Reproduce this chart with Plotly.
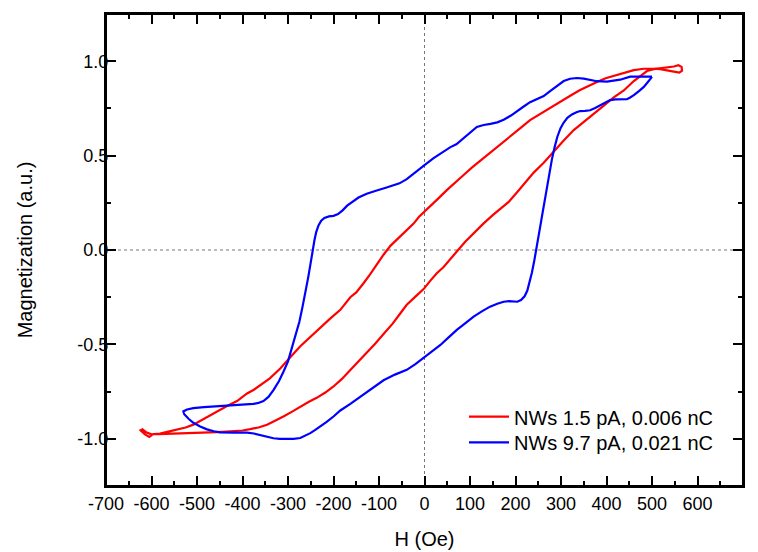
import plotly.graph_objects as go

# ---- data ----
red_H = [-622, -615, -605, -596, -585, -566, -548, -530, -510, -493, -475, -456, -435, -420,
         -400, -383, -365, -346, -328, -310, -290, -273, -255, -237, -218, -200, -182, -163,
         -145, -127, -108, -90, -70, -53, -39, -20, -2, 12, 27, 42, 57, 71, 90, 110, 130, 150,
         168, 185, 203, 220, 240, 262, 284, 306, 328, 350, 372, 394, 416, 438, 460, 474, 489,
         504, 518, 533, 548, 558, 565, 566, 560, 548, 533, 518, 504, 482, 460, 438, 416, 398,
         379, 360, 342, 324, 306, 288, 269, 250, 232, 214, 196, 177, 159, 140, 122, 104, 86,
         67, 49, 30, 12, -1, -12, -24, -42, -61, -75, -90, -105, -120, -134, -150, -163, -185,
         -208, -230, -252, -273, -295, -317, -340, -361, -375, -390, -412, -435, -456, -475,
         -493, -508, -525, -545, -563, -581, -600, -612, -620, -624, -622]
red_M = [-0.960, -0.975, -0.990, -0.975, -0.975, -0.974, -0.972, -0.970, -0.968, -0.969, -0.966,
         -0.965, -0.962, -0.960, -0.956, -0.949, -0.940, -0.926, -0.905, -0.882, -0.855, -0.829,
         -0.805, -0.783, -0.755, -0.723, -0.684, -0.635, -0.590, -0.545, -0.495, -0.445, -0.390,
         -0.335, -0.290, -0.247, -0.207, -0.165, -0.123, -0.090, -0.050, -0.008, 0.045, 0.095,
         0.141, 0.185, 0.220, 0.255, 0.305, 0.355, 0.410, 0.462, 0.522, 0.580, 0.635, 0.680,
         0.722, 0.765, 0.808, 0.845, 0.895, 0.920, 0.948, 0.958, 0.963, 0.966, 0.972, 0.979,
         0.970, 0.950, 0.940, 0.945, 0.952, 0.958, 0.960, 0.960, 0.953, 0.937, 0.924, 0.910,
         0.890, 0.870, 0.847, 0.822, 0.795, 0.768, 0.741, 0.715, 0.688, 0.652, 0.617, 0.582,
         0.547, 0.511, 0.476, 0.436, 0.397, 0.357, 0.317, 0.272, 0.229, 0.203, 0.176, 0.140,
         0.100, 0.058, 0.022, -0.025, -0.080, -0.130, -0.176, -0.225, -0.250, -0.317, -0.365,
         -0.413, -0.460, -0.510, -0.568, -0.628, -0.680, -0.718, -0.740, -0.760, -0.800,
         -0.828, -0.855, -0.880, -0.905, -0.925, -0.940, -0.953, -0.962, -0.972, -0.976,
         -0.965, -0.950, -0.955, -0.960]

blue_H = [500, 480, 467, 452, 430, 416, 401, 379, 364, 350, 335, 320, 306, 291, 276, 262, 247,
          232, 218, 204, 190, 174, 160, 145, 130, 115, 100, 85, 70, 57, 45, 34, 20, 0, -12, -24,
          -39, -55, -70, -85, -105, -127, -145, -160, -170, -180, -190, -200, -210, -220, -227,
          -233, -238, -242, -246, -251, -256, -262, -268, -275, -283, -291, -300, -310, -320,
          -332, -343, -354, -365, -376, -400, -420, -445, -464, -485, -508, -522, -530, -528,
          -518, -508, -493, -478, -463, -449, -420, -400, -390, -375, -361, -346, -332, -318,
          -303, -288, -273, -262, -251, -240, -229, -215, -200, -185, -163, -141, -115, -90,
          -65, -39, -20, -2, 15, 35, 53, 71, 90, 108, 126, 144, 160, 174, 186, 196, 204, 212,
          220, 226, 231, 236, 241, 245, 249, 254, 259, 264, 269, 274, 280, 286, 292, 299, 306,
          314, 324, 334, 342, 353, 364, 375, 386, 397, 408, 420, 433, 445, 452, 460, 472, 482,
          491, 500]
blue_M = [0.918, 0.918, 0.917, 0.918, 0.902, 0.898, 0.892, 0.894, 0.902, 0.908, 0.911, 0.907,
          0.895, 0.870, 0.842, 0.815, 0.797, 0.783, 0.760, 0.735, 0.712, 0.690, 0.676, 0.668,
          0.662, 0.652, 0.620, 0.588, 0.560, 0.545, 0.527, 0.510, 0.487, 0.450, 0.428, 0.405,
          0.375, 0.353, 0.343, 0.330, 0.315, 0.298, 0.278, 0.255, 0.235, 0.210, 0.190, 0.181,
          0.178, 0.170, 0.155, 0.130, 0.095, 0.050, 0.000, -0.080, -0.150, -0.230, -0.300,
          -0.380, -0.450, -0.520, -0.590, -0.645, -0.695, -0.742, -0.778, -0.800, -0.810,
          -0.815, -0.818, -0.820, -0.823, -0.826, -0.832, -0.838, -0.845, -0.855, -0.870,
          -0.895, -0.915, -0.935, -0.950, -0.960, -0.966, -0.967, -0.966, -0.967, -0.972,
          -0.980, -0.990, -0.997, -1.000, -1.001, -1.000, -0.996, -0.985, -0.970, -0.953,
          -0.935, -0.910, -0.882, -0.850, -0.815, -0.776, -0.730, -0.690, -0.660, -0.635,
          -0.605, -0.573, -0.540, -0.503, -0.463, -0.423, -0.387, -0.353, -0.325, -0.300,
          -0.285, -0.274, -0.271, -0.273, -0.274, -0.265, -0.245, -0.215, -0.170, -0.120,
          -0.060, -0.010, 0.050, 0.120, 0.190, 0.260, 0.340, 0.410, 0.480, 0.545, 0.600,
          0.645, 0.675, 0.700, 0.718, 0.730, 0.736, 0.737, 0.740, 0.752, 0.766, 0.782, 0.794,
          0.798, 0.799, 0.799, 0.808, 0.820, 0.843, 0.864, 0.890, 0.917]

series_names = ["NWs 1.5 pA, 0.006 nC", "NWs 9.7 pA, 0.021 nC"]

x_tickvals = [-700, -600, -500, -400, -300, -200, -100, 0, 100, 200, 300, 400, 500, 600, 700]
x_ticktext = ["-700", "-600", "-500", "-400", "-300", "-200", "-100", "0", "100", "200",
              "300", "400", "500", "600", "700"]
x_minor = [-650, -550, -450, -350, -250, -150, -50, 50, 150, 250, 350, 450, 550, 650]
y_tickvals = [-1.0, -0.5, 0.0, 0.5, 1.0]
y_ticktext = ["-1.0", "-0.5", "0.0", "0.5", "1.0"]
y_minor = [-1.25, -0.75, -0.25, 0.25, 0.75, 1.25]

FONT = "Arial, 'Liberation Sans', sans-serif"

fig = go.Figure()
fig.add_trace(go.Scatter(x=red_H, y=red_M, mode="lines", name=series_names[0],
                         line=dict(color="#ff0000", width=2.2), legend="legend"))
fig.add_trace(go.Scatter(x=blue_H, y=blue_M, mode="lines", name=series_names[1],
                         line=dict(color="#0000ff", width=2.2), legend="legend2"))

# dotted zero lines
fig.add_shape(type="line", xref="x", yref="paper", x0=0, x1=0, y0=0, y1=1,
              line=dict(color="#777777", width=1, dash="dot"), layer="below")
fig.add_shape(type="line", xref="paper", yref="y", x0=0, x1=1, y0=0, y1=0,
              line=dict(color="#777777", width=1, dash="dot"), layer="below")
# frame around the plot area
fig.add_shape(type="rect", xref="paper", yref="paper", x0=0, x1=1, y0=0, y1=1,
              line=dict(color="black", width=2), fillcolor="rgba(0,0,0,0)", layer="above")

axis_common = dict(showline=True, linecolor="black", linewidth=2, mirror="allticks",
                   ticks="inside", ticklen=10, tickwidth=1.8, tickcolor="black",
                   showgrid=False, zeroline=False, automargin=False,
                   tickfont=dict(family=FONT, size=18, color="black"))

fig.update_xaxes(range=[-700, 700], tickmode="array", tickvals=x_tickvals, ticktext=x_ticktext,
                 minor=dict(ticks="inside", ticklen=5, tickwidth=1.8, tickcolor="black",
                            tickmode="array", tickvals=x_minor, showgrid=False),
                 title=dict(text="H (Oe)", font=dict(family=FONT, size=20, color="black"),
                            standoff=19),
                 **axis_common)
fig.update_yaxes(range=[-1.25, 1.25], tickmode="array", tickvals=y_tickvals, ticktext=y_ticktext,
                 minor=dict(ticks="inside", ticklen=5, tickwidth=1.8, tickcolor="black",
                            tickmode="array", tickvals=y_minor, showgrid=False),
                 ticklabelstandoff=-8,
                 title=dict(text="Magnetization (a.u.)",
                            font=dict(family=FONT, size=20, color="black"), standoff=39),
                 **axis_common)

legend_common = dict(xanchor="left", yanchor="middle", bgcolor="rgba(0,0,0,0)",
                     font=dict(family=FONT, size=20, color="black"), itemwidth=40)
# plot area spans y 14..486 px; rows at 416.7 and 442.3 px
fig.update_layout(
    width=758, height=552,
    margin=dict(l=106, r=15, t=14, b=66),
    paper_bgcolor="white", plot_bgcolor="white",
    showlegend=True,
    legend=dict(x=0.562, y=(486 - 416.7) / 472, **legend_common),
    legend2=dict(x=0.562, y=(486 - 442.3) / 472, **legend_common),
)

fig.write_html("out.html", config={"displayModeBar": False},
               post_script="document.body.style.margin='0';document.body.style.overflow='hidden';")
